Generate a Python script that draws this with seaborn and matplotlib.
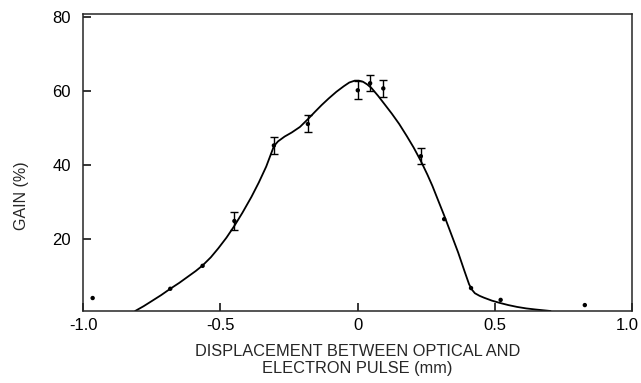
import numpy as np
import pandas as pd
import matplotlib
matplotlib.use("Agg")
import matplotlib.pyplot as plt
import matplotlib.transforms as mtransforms
import seaborn as sns

# measured points (displacement mm, gain %)
disp = [-0.966, -0.683, -0.565, -0.449, -0.305, -0.181, 0.001, 0.046, 0.094,
        0.231, 0.316, 0.414, 0.522, 0.829]
gain = [4.0, 6.5, 12.7, 24.8, 45.2, 51.0, 60.1, 62.0, 60.6,
        42.3, 25.3, 6.7, 3.5, 2.1]
# error bars only on the middle points (0 = none)
gain_err = [0, 0, 0, 2.3, 2.3, 2.3, 2.4, 2.2, 2.3, 2.2, 0, 0, 0, 0]

# fitted curve
curve_x = [-0.811, -0.78, -0.75, -0.716, -0.683, -0.65, -0.62, -0.59, -0.565,
           -0.535, -0.508, -0.478, -0.449, -0.42, -0.387, -0.36, -0.333, -0.305,
           -0.29, -0.266, -0.24, -0.21, -0.181, -0.155, -0.131, -0.105, -0.077,
           -0.05, -0.03, -0.01, 0.005, 0.02, 0.035, 0.051, 0.075, 0.098, 0.125,
           0.152, 0.18, 0.205, 0.231, 0.255, 0.273, 0.295, 0.316, 0.34, 0.367,
           0.39, 0.407, 0.418, 0.428, 0.445, 0.461, 0.49, 0.518, 0.55, 0.582,
           0.615, 0.65, 0.704]
curve_y = [0.5, 1.8, 3.2, 4.8, 6.5, 8.1, 9.7, 11.3, 12.8,
           15.0, 17.4, 20.3, 23.5, 27.0, 31.3, 35.2, 39.5, 45.0,
           46.3, 47.6, 48.7, 50.2, 52.3, 54.3, 56.1, 57.9, 59.7,
           61.2, 62.2, 62.7, 62.7, 62.4, 61.7, 60.7, 58.6, 56.4, 53.8,
           51.0, 47.7, 44.6, 41.0, 37.3, 34.3, 30.2, 26.3, 21.6, 16.3,
           11.3, 7.7, 6.2, 5.3, 4.6, 4.1, 3.3, 2.7, 2.1, 1.6,
           1.2, 0.9, 0.5]

x_ticks = [-1.0, -0.5, 0, 0.5, 1.0]
x_ticklabels = ["-1.0", "-0.5", "0", "0.5", "1.0"]
y_ticks = [20, 40, 60, 80]

sns.set_style("ticks")
plt.rcParams.update({
    "font.family": ["Liberation Sans", "DejaVu Sans"],
    "xtick.direction": "in",
    "ytick.direction": "in",
    "axes.linewidth": 1.1,
})

pts = pd.DataFrame({"disp": disp, "gain": gain, "err": gain_err})
curve = pd.DataFrame({"x": curve_x, "y": curve_y})

fig = plt.figure(figsize=(6.41, 3.83), dpi=100)
ax = fig.add_axes([0.130, 0.188, 0.8555, 0.7745])

sns.lineplot(data=curve, x="x", y="y", ax=ax, color="black", lw=1.3,
             sort=False, estimator=None)
sns.scatterplot(data=pts, x="disp", y="gain", ax=ax, color="black", s=10,
                edgecolor="none", zorder=3)
eb = pts[pts["err"] > 0]
ax.errorbar(eb["disp"], eb["gain"], yerr=eb["err"], fmt="none", ecolor="black",
            elinewidth=1.0, capsize=3, capthick=1.0)

ax.set_xlim(-1.0, 1.0)
ax.set_ylim(0.5, 80.6)
ax.set_xticks(x_ticks)
ax.set_xticklabels(x_ticklabels)
ax.set_yticks(y_ticks)
ax.tick_params(axis="both", labelsize=12, length=6, width=1.1, colors="black")
ax.tick_params(axis="y", pad=9)
ax.tick_params(axis="x", pad=5)

# nudge the last x label so it stays inside the figure
last = ax.get_xticklabels()[-1]
last.set_transform(last.get_transform() +
                   mtransforms.ScaledTranslation(-4 / 100, 0, fig.dpi_scale_trans))

ax.set_xlabel("DISPLACEMENT BETWEEN OPTICAL AND\nELECTRON PULSE (mm)",
              fontsize=11.8, linespacing=1.15, labelpad=8)
ax.set_ylabel("GAIN (%)", fontsize=11.5)
ax.yaxis.set_label_coords(-0.099, 0.39)

fig.savefig("out.png", dpi=100)
